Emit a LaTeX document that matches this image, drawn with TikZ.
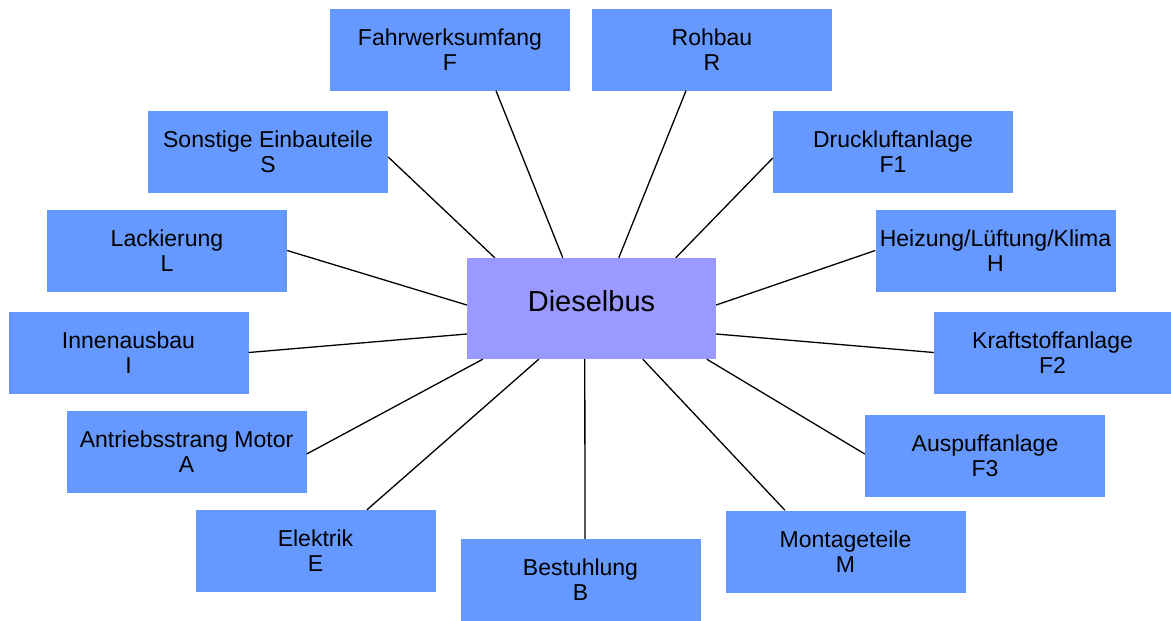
\documentclass[tikz,border=0pt]{standalone}
\usepackage{fontspec}
\setmainfont{Liberation Sans}
\usetikzlibrary{calc}

\definecolor{partblue}{RGB}{102,153,255}
\definecolor{hubviolet}{RGB}{153,153,255}

\tikzset{
  part/.style={fill=partblue, inner sep=0pt, minimum width=240pt,
    minimum height=82pt, align=center, text=black,
    font=\fontsize{23pt}{25pt}\selectfont},
  hub/.style={fill=hubviolet, inner sep=0pt, minimum width=249pt,
    minimum height=101pt, text depth=16pt,
    font=\fontsize{29pt}{33pt}\selectfont},
  link/.style={draw=black, line width=1.3pt}
}

\begin{document}
\begin{tikzpicture}[x=1pt, y=-1pt]
  \useasboundingbox (0,0) rectangle (1171,621);

  % central product
  \node[hub] (bus) at (591.5,308.5) {Dieselbus};

  % assembly groups around it
  \node[part] (F)  at (450,49.5)    {Fahrwerksumfang\\F};
  \node[part] (R)  at (712,49.5)    {Rohbau\\R};
  \node[part] (S)  at (268,152)     {Sonstige Einbauteile\\S};
  \node[part] (F1) at (893,151.5)   {Druckluftanlage\\F1};
  \node[part] (L)  at (167,250.5)   {Lackierung\\L};
  \node[part] (H)  at (995.5,250.5) {Heizung/Lüftung/Klima\\H};
  \node[part] (I)  at (128.5,352.5) {Innenausbau\\I};
  \node[part, minimum width=237pt] (F2) at (1052.5,352.5) {Kraftstoffanlage\\F2};
  \node[part] (A)  at (186.5,452)   {Antriebsstrang Motor\\A};
  \node[part] (F3) at (985,455.5)   {Auspuffanlage\\F3};
  \node[part] (E)  at (315.5,551)   {Elektrik\\E};
  \node[part] (B)  at (580.5,580)   {Bestuhlung\\B};
  \node[part] (M)  at (845.5,551.5) {Montageteile\\M};

  % connectors
  \draw[link] ($(S.east)+(0,5)$)    -- ($(bus.north west)+(28,0)$);
  \draw[link] ($(F.south)+(46,0)$)  -- ($(bus.north west)+(96,0)$);
  \draw[link] ($(R.south)+(-26,0)$) -- ($(bus.north west)+(152,0)$);
  \draw[link] ($(F1.west)+(0,6.5)$) -- ($(bus.north west)+(209,0)$);
  \draw[link] (L.east)  -- ($(bus.west)+(0,-3.5)$);
  \draw[link] (H.west)  -- ($(bus.east)+(0,-3.5)$);
  \draw[link] (I.east)  -- ($(bus.west)+(0,25.5)$);
  \draw[link] (F2.west) -- ($(bus.east)+(0,25.5)$);
  \draw[link] ($(A.east)+(0,2)$)     -- ($(bus.south west)+(16,0)$);
  \draw[link] ($(E.north)+(51.5,0)$) -- ($(bus.south west)+(72,0)$);
  \draw[link] ($(B.north)+(4.5,0)$)  -- ($(bus.south west)+(118,0)$);
  \draw[link] ($(M.north)+(-60.5,0)$) -- ($(bus.south west)+(176,0)$);
  \draw[link] ($(F3.west)+(0,-1.5)$) -- ($(bus.south west)+(240,0)$);
\end{tikzpicture}
\end{document}
